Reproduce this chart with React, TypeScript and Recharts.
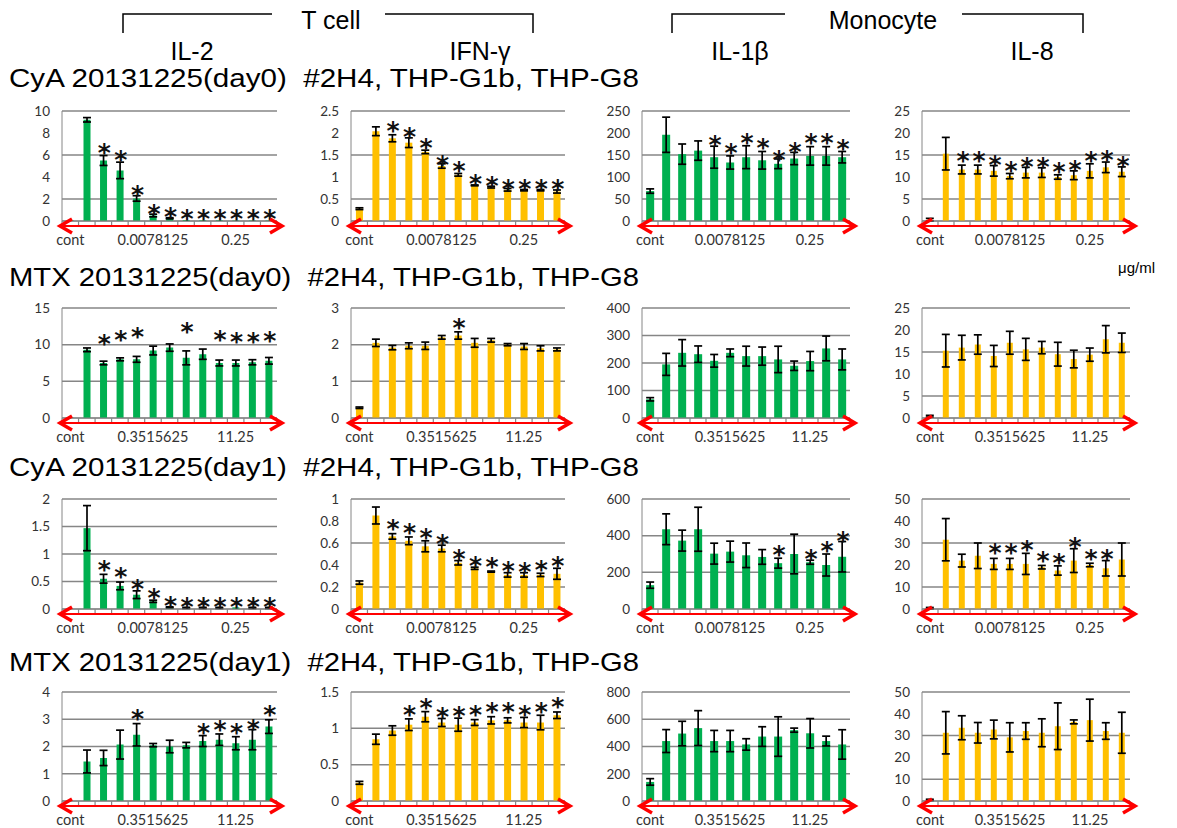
import React from "react";
import {
  ComposedChart,
  Bar,
  ErrorBar,
  Scatter,
  XAxis,
  YAxis,
  CartesianGrid,
} from "recharts";

// dose categories (2-fold dilutions, ug/ml)
const cyaDoses = [
  "cont", "0.00048828125", "0.0009765625", "0.001953125", "0.00390625",
  "0.0078125", "0.015625", "0.03125", "0.0625", "0.125", "0.25", "0.5", "1",
];
const mtxDoses = [
  "cont", "0.02197265625", "0.0439453125", "0.087890625", "0.17578125",
  "0.3515625", "0.703125", "1.40625", "2.8125", "5.625", "11.25", "22.5", "45",
];

const rowTitles = [
  "CyA 20131225(day0)  #2H4, THP-G1b, THP-G8",
  "MTX 20131225(day0)  #2H4, THP-G1b, THP-G8",
  "CyA 20131225(day1)  #2H4, THP-G1b, THP-G8",
  "MTX 20131225(day1)  #2H4, THP-G1b, THP-G8",
];
const cytokines = ["IL-2", "IFN-γ", "IL-1β", "IL-8"];

// ---- CyA day0 ----
const cyaD0Il2 = [0.05, 9.2, 5.5, 4.6, 2.05, 0.5, 0.25, 0.08, 0.06, 0.06, 0.05, 0.05, 0.05];
const cyaD0Il2Err = [0, 0.2, 0.45, 0.75, 0.25, 0.12, 0.05, 0, 0, 0, 0, 0, 0];
const cyaD0Il2Star = [null, null, 6.6, 6.0, 2.85, 1.12, 0.82, 0.67, 0.67, 0.67, 0.67, 0.67, 0.67];
const cyaD0Ifn = [0.28, 2.04, 1.88, 1.78, 1.57, 1.25, 1.05, 0.81, 0.77, 0.71, 0.7, 0.7, 0.67];
const cyaD0IfnErr = [0.02, 0.1, 0.08, 0.11, 0.04, 0.05, 0.03, 0.01, 0.02, 0.03, 0.015, 0.015, 0.035];
const cyaD0IfnStar = [null, null, 2.17, 2.02, 1.78, 1.38, 1.24, 0.95, 0.92, 0.85, 0.83, 0.85, 0.83];
const cyaD0Il1b = [68, 196, 152, 160, 145, 133, 145, 138, 130, 142, 148, 148, 145];
const cyaD0Il1bErr = [5, 40, 23, 22, 25, 15, 26, 20, 11, 14, 21, 21, 13];
const cyaD0Il1bStar = [null, null, null, null, 184, 165, 188, 177, 150, 169, 188, 188, 174];
const cyaD0Il8 = [0.3, 15.3, 11.7, 11.7, 11.4, 10.2, 11, 11, 10, 10.4, 11.4, 12.2, 11.2];
const cyaD0Il8Err = [0.3, 3.7, 1, 1, 1.2, 0.6, 1.2, 1.1, 0.5, 1, 1.6, 1.2, 1.1];
const cyaD0Il8Star = [null, null, 14.7, 14.7, 13.9, 12.6, 13.5, 13.5, 12.2, 12.8, 14.7, 15.0, 13.7];

// ---- MTX day0 ----
const mtxD0Il2 = [0.05, 9.3, 7.5, 8.0, 8.0, 9.2, 9.6, 8.2, 8.7, 7.5, 7.5, 7.6, 7.8];
const mtxD0Il2Err = [0, 0.25, 0.25, 0.2, 0.4, 0.6, 0.5, 0.95, 0.7, 0.4, 0.4, 0.35, 0.45];
const mtxD0Il2Star = [null, null, 10.8, 11.3, 11.7, null, null, 12.4, null, 11.3, 11.1, 11.1, 11.2];
const mtxD0Ifn = [0.28, 2.05, 1.92, 1.97, 1.97, 2.2, 2.25, 2.05, 2.12, 2.0, 1.95, 1.9, 1.87];
const mtxD0IfnErr = [0.02, 0.1, 0.06, 0.08, 0.1, 0.05, 0.1, 0.12, 0.05, 0.03, 0.08, 0.07, 0.04];
const mtxD0IfnStar = [null, null, null, null, null, null, 2.6, null, null, null, null, null, null];
const mtxD0Il1b = [68, 195, 237, 232, 208, 237, 225, 225, 213, 190, 207, 253, 213];
const mtxD0Il1bErr = [6, 40, 48, 30, 23, 14, 36, 33, 48, 17, 35, 45, 38];
const mtxD0Il1bStar = [null, null, null, null, null, null, null, null, null, null, null, null, null];
const mtxD0Il8 = [0.4, 15.3, 16, 16.7, 14.1, 17.1, 15.6, 16, 14.5, 13.4, 14.4, 17.9, 17.1];
const mtxD0Il8Err = [0.2, 3.7, 2.8, 2.2, 2.4, 2.6, 2.5, 1.4, 2.7, 2, 1.5, 3.1, 2.2];
const mtxD0Il8Star = [null, null, null, null, null, null, null, null, null, null, null, null, null];

// ---- CyA day1 ----
const cyaD1Il2 = [0, 1.47, 0.55, 0.42, 0.26, 0.14, 0.03, 0.02, 0.02, 0.02, 0.03, 0.02, 0.02];
const cyaD1Il2Err = [0, 0.41, 0.08, 0.07, 0.07, 0.02, 0.01, 0.01, 0.01, 0.01, 0, 0.01, 0.01];
const cyaD1Il2Star = [null, null, 0.8, 0.67, 0.45, 0.29, 0.15, 0.12, 0.13, 0.13, 0.13, 0.13, 0.12];
const cyaD1Ifn = [0.24, 0.85, 0.66, 0.62, 0.57, 0.55, 0.42, 0.37, 0.34, 0.31, 0.31, 0.31, 0.32];
const cyaD1IfnErr = [0.015, 0.077, 0.025, 0.035, 0.05, 0.03, 0.02, 0.01, 0.005, 0.02, 0.02, 0.015, 0.05];
const cyaD1IfnStar = [null, null, 0.77, 0.735, 0.69, 0.64, 0.5, 0.44, 0.43, 0.395, 0.385, 0.4, 0.44];
const cyaD1Il1b = [130, 435, 373, 435, 302, 313, 293, 284, 250, 300, 255, 240, 285];
const cyaD1Il1bErr = [17, 84, 57, 120, 57, 57, 67, 40, 27, 108, 11, 60, 83];
const cyaD1Il1bStar = [null, null, null, null, null, null, null, null, 320, null, 302, 343, 398];
const cyaD1Il8 = [0.4, 31.5, 22, 24.2, 20.5, 20.5, 20.5, 19, 17.5, 22, 20, 18.5, 22.5];
const cyaD1Il8Err = [0.3, 9.6, 2.9, 5.8, 2.5, 2.5, 4.8, 0.8, 2.1, 5.4, 0.8, 3.5, 7.5];
const cyaD1Il8Star = [null, null, null, null, 27.6, 27.6, 29, 24.2, 23.4, 30.6, 25.2, 25.2, null];

// ---- MTX day1 ----
const mtxD1Il2 = [0, 1.45, 1.58, 2.07, 2.43, 2.05, 2.0, 2.05, 2.2, 2.25, 2.12, 2.25, 2.73];
const mtxD1Il2Err = [0, 0.42, 0.28, 0.53, 0.41, 0.06, 0.23, 0.1, 0.2, 0.21, 0.24, 0.37, 0.25];
const mtxD1Il2Star = [null, null, null, null, 3.2, null, null, null, 2.68, 2.78, 2.68, 2.84, 3.33];
const mtxD1Ifn = [0.25, 0.85, 0.97, 1.05, 1.16, 1.08, 1.05, 1.08, 1.11, 1.11, 1.08, 1.08, 1.18];
const mtxD1IfnErr = [0.02, 0.07, 0.065, 0.08, 0.07, 0.055, 0.09, 0.04, 0.05, 0.035, 0.07, 0.1, 0.045];
const mtxD1IfnStar = [null, null, null, 1.25, 1.355, 1.22, 1.24, 1.25, 1.29, 1.29, 1.25, 1.29, 1.36];
const mtxD1Il1b = [140, 440, 495, 535, 440, 440, 415, 473, 473, 520, 497, 440, 415];
const mtxD1Il1bErr = [24, 84, 90, 128, 78, 78, 42, 72, 145, 15, 108, 36, 108];
const mtxD1Il1bStar = [null, null, null, null, null, null, null, null, null, null, null, null, null];
const mtxD1Il8 = [0.5, 31.3, 33.6, 31.3, 32.8, 29.2, 32.1, 31.3, 34.3, 36.3, 37.1, 32.1, 31.3];
const mtxD1Il8Err = [0.3, 9.7, 5.5, 4.7, 4.3, 6.7, 3.8, 6.4, 10.7, 0.9, 9.6, 3.8, 9.4];
const mtxD1Il8Star = [null, null, null, null, null, null, null, null, null, null, null, null, null];

// y-axis ticks per panel
const ticksCyaD0 = [[0, 2, 4, 6, 8, 10], [0, 0.5, 1, 1.5, 2, 2.5], [0, 50, 100, 150, 200, 250], [0, 5, 10, 15, 20, 25]];
const ticksMtxD0 = [[0, 5, 10, 15], [0, 1, 2, 3], [0, 100, 200, 300, 400], [0, 5, 10, 15, 20, 25]];
const ticksCyaD1 = [[0, 0.5, 1, 1.5, 2], [0, 0.2, 0.4, 0.6, 0.8, 1], [0, 200, 400, 600], [0, 10, 20, 30, 40, 50]];
const ticksMtxD1 = [[0, 1, 2, 3, 4], [0, 0.5, 1, 1.5], [0, 200, 400, 600, 800], [0, 10, 20, 30, 40, 50]];

const GREEN = "#00B050";
const ORANGE = "#FFC000";
const GRID = "#868686";
const RED = "#FF0000";
const colColors = [GREEN, ORANGE, GREEN, ORANGE];

// plot-area placement on the page
const colLeft = [62, 351, 642, 922];
const colWidth = [215, 214, 208, 208];
const rowTop = [111, 308, 499, 692];
const rowHeight = [110, 110, 110, 109];
const titleBaseline = [87, 286, 476, 671];

type PanelProps = {
  left: number;
  top: number;
  plotW: number;
  plotH: number;
  doses: string[];
  values: number[];
  errors: number[];
  stars: (number | null)[];
  ticks: number[];
  color: string;
  gap: string;
};

function StarMark(props: any) {
  const { cx, cy, payload } = props;
  if (!payload || payload.star == null || cx == null || cy == null || isNaN(cy)) return <g />;
  return (
    <text
      x={cx + 1}
      y={cy + 13}
      textAnchor="middle"
      fontSize={25}
      fontWeight="bold"
      fontFamily="DejaVu Sans"
      fill="#111"
    >
      *
    </text>
  );
}

const tickFont = { fontSize: 13.5, fill: "#333", fontFamily: "Lato" };

function Panel({ left, top, plotW, plotH, doses, values, errors, stars, ticks, color, gap }: PanelProps) {
  const data = doses.map((d, i) => ({ dose: d, v: values[i], err: errors[i], star: stars[i] }));
  const mTop = 12;
  const mLeft = 46;
  const mRight = 14;
  const xAxisH = 36;
  const width = plotW + mLeft + mRight;
  const height = plotH + mTop + xAxisH;
  const base = mTop + plotH;
  const step = plotW / doses.length;
  const ay = base + 5;
  const x0 = mLeft - 2;
  const x1 = mLeft + plotW + 5;

  return (
    <div style={{ position: "absolute", left: left - mLeft, top: top - mTop, width, height }}>
      <ComposedChart
        width={width}
        height={height}
        data={data}
        margin={{ top: mTop, right: mRight, left: 0, bottom: 0 }}
        barCategoryGap={gap}
      >
        <CartesianGrid vertical={false} stroke={GRID} strokeWidth={1.5} />
        <XAxis
          dataKey="dose"
          interval={4}
          tickLine={false}
          axisLine={{ stroke: GRID }}
          height={xAxisH}
          tick={{ ...tickFont, fontSize: 14.5 }}
          tickMargin={8}
        />
        <YAxis
          width={mLeft}
          domain={[0, ticks[ticks.length - 1]]}
          ticks={ticks}
          allowDataOverflow
          tickLine={false}
          axisLine={{ stroke: GRID }}
          tick={tickFont}
          tickMargin={6}
        />
        <Bar dataKey="v" fill={color} isAnimationActive={false}>
          <ErrorBar dataKey="err" width={4} stroke="#000" strokeWidth={1.7} />
        </Bar>
        <Scatter dataKey="star" shape={StarMark} isAnimationActive={false} />
      </ComposedChart>
      <svg
        width={width}
        height={height}
        style={{ position: "absolute", left: 0, top: 0, pointerEvents: "none" }}
      >
        {doses.map((_, i) => (
          <line key={i} x1={mLeft + i * step} x2={mLeft + i * step} y1={base} y2={base + 5} stroke={GRID} strokeWidth={1.2} />
        ))}
        <line x1={mLeft + plotW} x2={mLeft + plotW} y1={base} y2={base + 5} stroke={GRID} strokeWidth={1.2} />
        {/* red double-headed arrow along the dose axis */}
        <line x1={x0 + 2} x2={x1 - 2} y1={ay} y2={ay} stroke={RED} strokeWidth={2} />
        <polyline points={`${x0 + 12},${ay - 7} ${x0},${ay} ${x0 + 12},${ay + 7}`} fill="none" stroke={RED} strokeWidth={3.5} />
        <polyline points={`${x1 - 12},${ay - 7} ${x1},${ay} ${x1 - 12},${ay + 7}`} fill="none" stroke={RED} strokeWidth={3.5} />
      </svg>
    </div>
  );
}

const rows = [
  {
    doses: cyaDoses,
    ticks: ticksCyaD0,
    values: [cyaD0Il2, cyaD0Ifn, cyaD0Il1b, cyaD0Il8],
    errors: [cyaD0Il2Err, cyaD0IfnErr, cyaD0Il1bErr, cyaD0Il8Err],
    stars: [cyaD0Il2Star, cyaD0IfnStar, cyaD0Il1bStar, cyaD0Il8Star],
  },
  {
    doses: mtxDoses,
    ticks: ticksMtxD0,
    values: [mtxD0Il2, mtxD0Ifn, mtxD0Il1b, mtxD0Il8],
    errors: [mtxD0Il2Err, mtxD0IfnErr, mtxD0Il1bErr, mtxD0Il8Err],
    stars: [mtxD0Il2Star, mtxD0IfnStar, mtxD0Il1bStar, mtxD0Il8Star],
  },
  {
    doses: cyaDoses,
    ticks: ticksCyaD1,
    values: [cyaD1Il2, cyaD1Ifn, cyaD1Il1b, cyaD1Il8],
    errors: [cyaD1Il2Err, cyaD1IfnErr, cyaD1Il1bErr, cyaD1Il8Err],
    stars: [cyaD1Il2Star, cyaD1IfnStar, cyaD1Il1bStar, cyaD1Il8Star],
  },
  {
    doses: mtxDoses,
    ticks: ticksMtxD1,
    values: [mtxD1Il2, mtxD1Ifn, mtxD1Il1b, mtxD1Il8],
    errors: [mtxD1Il2Err, mtxD1IfnErr, mtxD1Il1bErr, mtxD1Il8Err],
    stars: [mtxD1Il2Star, mtxD1IfnStar, mtxD1Il1bStar, mtxD1Il8Star],
  },
];

const headFont = "Liberation Sans";

export default function App() {
  return (
    <div
      style={{
        position: "absolute",
        left: 0,
        top: 0,
        width: 1177,
        height: 828,
        background: "#fff",
        overflow: "hidden",
      }}
    >
      <svg width={1177} height={828} style={{ position: "absolute", left: 0, top: 0 }}>
        {/* group brackets */}
        <polyline points="123,33 123,14 272,14" fill="none" stroke="#000" strokeWidth={1.5} />
        <polyline points="385,14 533,14 533,33" fill="none" stroke="#000" strokeWidth={1.5} />
        <polyline points="672,33 672,14 785,14" fill="none" stroke="#000" strokeWidth={1.5} />
        <polyline points="962,14 1083,14 1083,33" fill="none" stroke="#000" strokeWidth={1.5} />
        <text x={331} y={29} textAnchor="middle" fontSize={25} fontFamily={headFont}>T cell</text>
        <text x={883} y={29} textAnchor="middle" fontSize={25} fontFamily={headFont}>Monocyte</text>
        {[192, 480, 740, 1032].map((cx, i) => (
          <text key={i} x={cx} y={60} textAnchor="middle" fontSize={25} fontFamily={headFont}>
            {cytokines[i]}
          </text>
        ))}
        {rowTitles.map((t, i) => (
          <text
            key={i}
            x={9}
            y={titleBaseline[i]}
            fontSize={26}
            fontFamily={headFont}
            textLength={630}
            lengthAdjust="spacingAndGlyphs"
            xmlSpace="preserve"
          >
            {t}
          </text>
        ))}
        <text x={1118} y={273} fontSize={15} fontFamily={headFont}>μg/ml</text>
      </svg>
      {rows.map((row, r) =>
        [0, 1, 2, 3].map((c) => (
          <Panel
            key={`${r}-${c}`}
            left={colLeft[c]}
            top={rowTop[r]}
            plotW={colWidth[c]}
            plotH={rowHeight[r]}
            doses={row.doses}
            values={row.values[c]}
            errors={row.errors[c]}
            stars={row.stars[c]}
            ticks={row.ticks[c]}
            color={colColors[c]}
            gap={c === 2 ? "26%" : "30%"}
          />
        ))
      )}
    </div>
  );
}
